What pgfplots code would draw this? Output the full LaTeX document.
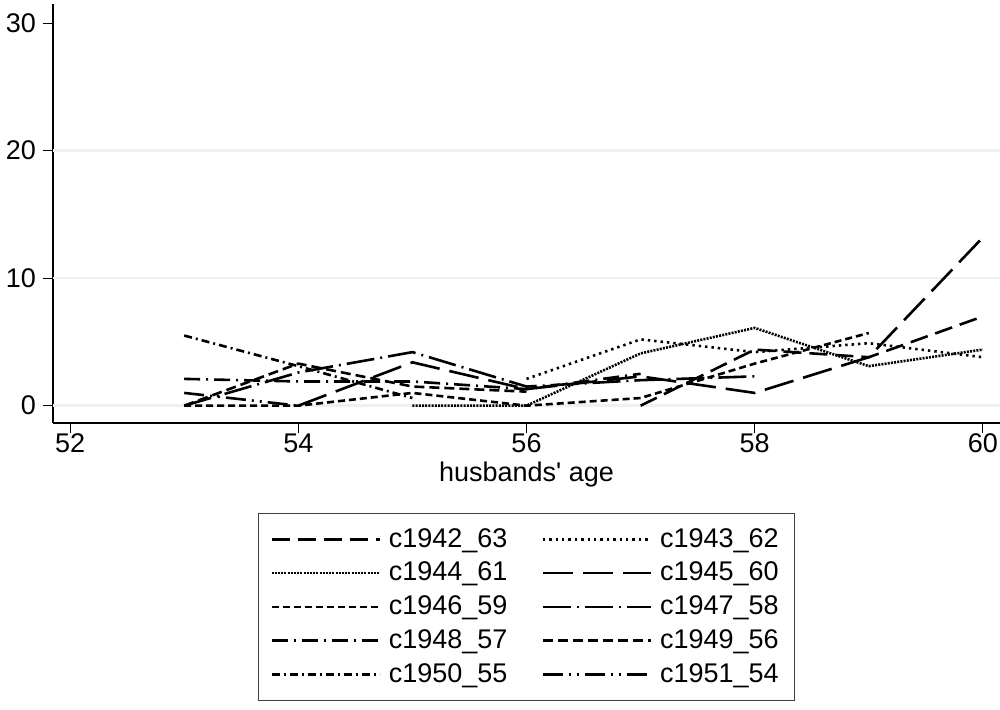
\documentclass[border=0pt]{standalone}
\usepackage{fontspec}
\setmainfont{Liberation Sans}[Ligatures=TeXOff]
\usepackage{pgfplots}
\pgfplotsset{compat=1.18}
\definecolor{gridc}{RGB}{234,242,243}
\begin{document}
\begin{tikzpicture}
\useasboundingbox (0,0) rectangle (500pt,-354.5pt);
\begin{axis}[
 at={(26.5pt,-2pt)}, anchor=north west,
 scale only axis, width=473.5pt, height=209.5pt,
 xmin=51.85, xmax=60.15, ymin=-1.36, ymax=31.5,
 axis x line*=bottom, axis y line*=left,
 axis line style={line width=0.6pt,-},
 tick align=outside, major tick length=5pt,
 tick style={line width=0.6pt, black},
 xtick={52,54,56,58,60}, ytick={0,10,20,30},
 extra y ticks={0,10,20},
 extra y tick labels={},
 extra y tick style={grid=major, major grid style={color=gridc, line width=1.2pt}, major tick length=0pt},
 /pgf/number format/assume math mode=true,
 ticklabel style={font=\fontsize{13.5}{15}\selectfont},
 xticklabel style={yshift=3pt},
 xlabel={husbands' age},
 xlabel style={font=\fontsize{13.5}{15}\selectfont, yshift=2.5pt},
 legend columns=2,
 legend cell align=left,
 legend image code/.code={\draw[#1] (0pt,0pt) -- (54pt,0pt); \path (56pt,0pt);},
 legend style={at={(0.5,-0.214)}, anchor=north, draw=black!75, line width=0.6pt,
   font=\fontsize{13.5}{15}\selectfont, inner xsep=6pt, inner ysep=5.5pt, row sep=2pt,
   /tikz/every even column/.append style={column sep=15pt}},
]
\addplot[black, line width=1.3pt, dash pattern=on 9pt off 4pt] coordinates {(57,0) (58,4.4) (59,3.8) (60,7.0)};
\addlegendentry{c1942\_63}
\addplot[black, line width=1.3pt, dash pattern=on 1.2pt off 2pt] coordinates {(56,2.1) (57,5.2) (58,4.2) (59,4.9) (60,3.8)};
\addlegendentry{c1943\_62}
\addplot[black, line width=1.3pt, dash pattern=on 1pt off 0.6pt] coordinates {(55,0) (56,0) (57,4.1) (58,6.1) (59,3.1) (60,4.4)};
\addlegendentry{c1944\_61}
\addplot[black, line width=1.3pt, dash pattern=on 15pt off 5pt] coordinates {(54,0) (55,3.4) (56,1.3) (57,2.3) (58,1.0) (59,3.8) (60,13.2)};
\addlegendentry{c1945\_60}
\addplot[black, line width=1.3pt, dash pattern=on 3.5pt off 2pt] coordinates {(53,0) (54,0) (55,1.0) (56,0) (57,0.6) (58,3.3) (59,5.7)};
\addlegendentry{c1946\_59}
\addplot[black, line width=1.3pt, dash pattern=on 14pt off 3pt on 1pt off 3pt] coordinates {(53,0) (54,2.6) (55,4.2) (56,1.5) (57,2.0) (58,2.3)};
\addlegendentry{c1947\_58}
\addplot[black, line width=1.3pt, dash pattern=on 8pt off 3pt on 1pt off 3pt] coordinates {(53,2.1) (54,1.9) (55,1.9) (56,1.3) (57,2.5)};
\addlegendentry{c1948\_57}
\addplot[black, line width=1.3pt, dash pattern=on 5pt off 2.5pt] coordinates {(53,0) (54,3.3) (55,1.5) (56,1.1)};
\addlegendentry{c1949\_56}
\addplot[black, line width=1.3pt, dash pattern=on 4pt off 2pt on 1pt off 2pt] coordinates {(53,5.5) (54,3.1) (55,0.6)};
\addlegendentry{c1950\_55}
\addplot[black, line width=1.3pt, dash pattern=on 10pt off 3pt on 1pt off 3pt on 1pt off 3pt] coordinates {(53,1.0) (54,0)};
\addlegendentry{c1951\_54}
\end{axis}
\end{tikzpicture}
\end{document}
